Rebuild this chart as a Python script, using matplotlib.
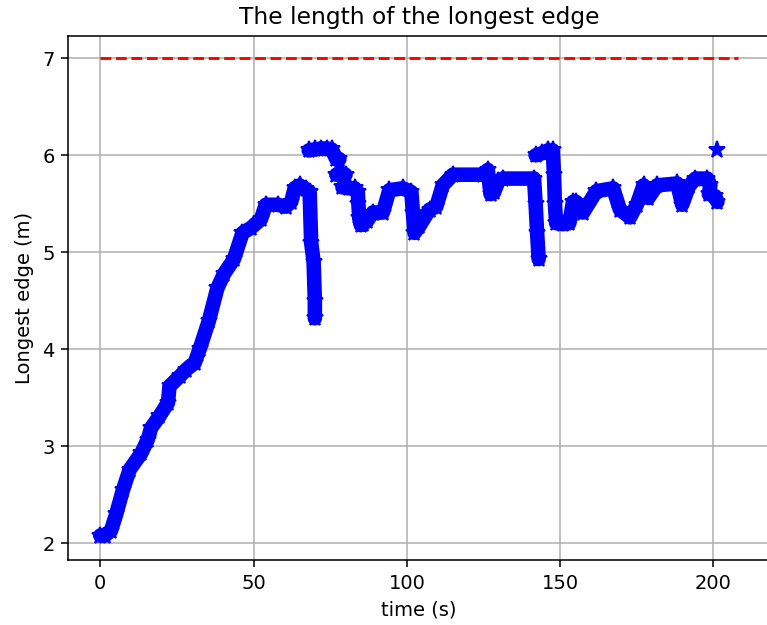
import numpy as np
import matplotlib.pyplot as plt

# longest edge over time (NaN splits the separate pieces)
t = [0, 1.5, 3.5, 5.2, 7.4, 9.6, 13.4, 15.5, 16.6, 19.3, 22.1, 22.6, 25.9, 28.0,
     30.8, 32.4, 35.4, 38.2, 40.4, 43.6, 46.4, 49.1, 52.4, 54.0, 57.9, 60.5, 62.3,
     63.4, 65.0, 67.0, 68.3, 68.8, 69.6, 70.0, 70.0,
     np.nan,
     68.0, 70.0, 72.0, 74.0, 75.5, 77.0, 78.0,
     np.nan,
     77.0, 78.5, 80.0,
     np.nan,
     79.0, 81.0, 83.0, 84.0, 84.2, 84.5, 85.0, 85.7, 87.0, 88.9, 92.2, 94.3, 98.7,
     101.5, 102.0, 102.5, 104.1, 107.4, 109.6, 111.7, 115.0, 124.8, 126.4, 127.3,
     128.5, 129.7, 131.3, 141.5, 142.0, 142.5, 143.0,
     np.nan,
     142.0, 144.0, 146.0, 147.6, 148.0, 148.3, 148.7, 150.9, 153.0, 154.2, 155.2,
     157.5, 161.8, 167.3, 169.5, 172.8, 175.0, 177.2, 178.8, 181.6, 188.2, 189.8,
     192.0, 194.1, 198.0, 199.0, 198.5, 200.5, 201.3,
     np.nan,
     201.3]
edge = [2.08, 2.08, 2.13, 2.30, 2.55, 2.76, 2.93, 3.07, 3.19, 3.31, 3.45, 3.62, 3.72, 3.79,
        3.86, 4.00, 4.29, 4.63, 4.78, 4.93, 5.20, 5.25, 5.34, 5.49, 5.49, 5.47, 5.52,
        5.66, 5.69, 5.65, 5.62, 5.10, 4.90, 4.50, 4.32,
        np.nan,
        6.05, 6.06, 6.07, 6.07, 6.06, 5.96, 5.96,
        np.nan,
        5.80, 5.82, 5.80,
        np.nan,
        5.67, 5.66, 5.66, 5.62, 5.50, 5.35, 5.28, 5.29, 5.32, 5.41, 5.41, 5.64, 5.66,
        5.62, 5.40, 5.20, 5.27, 5.44, 5.47, 5.69, 5.80, 5.80, 5.85, 5.60,
        5.62, 5.73, 5.76, 5.76, 5.50, 5.20, 4.93,
        np.nan,
        6.00, 6.02, 6.05, 6.05, 5.80, 5.50, 5.30, 5.29, 5.30, 5.52, 5.52,
        5.41, 5.63, 5.66, 5.44, 5.36, 5.49, 5.69, 5.56, 5.69, 5.71, 5.49,
        5.68, 5.76, 5.76, 5.69, 5.60, 5.58, 5.52,
        np.nan,
        6.05]

limit_t = [0, 208]
limit = [7, 7]

dpi = 140
fig = plt.figure(figsize=(767 / dpi, 625 / dpi), dpi=dpi)
ax = fig.add_axes([0.0891, 0.104, 0.9146, 0.8389])

ax.plot(t, edge, color="blue", lw=7.5, solid_capstyle="round", solid_joinstyle="round")
ax.plot(t, edge, "b*", ms=9)
ax.plot(limit_t, limit, "r--")

ax.set_xlim(-10.4, 218.4)
ax.set_ylim(1.828, 7.233)
ax.set_xticks([0, 50, 100, 150, 200])
ax.grid(True)
ax.set_title("The length of the longest edge")
ax.set_xlabel("time (s)")
ax.set_ylabel("Longest edge (m)")

fig.savefig("out.png", dpi=dpi)
